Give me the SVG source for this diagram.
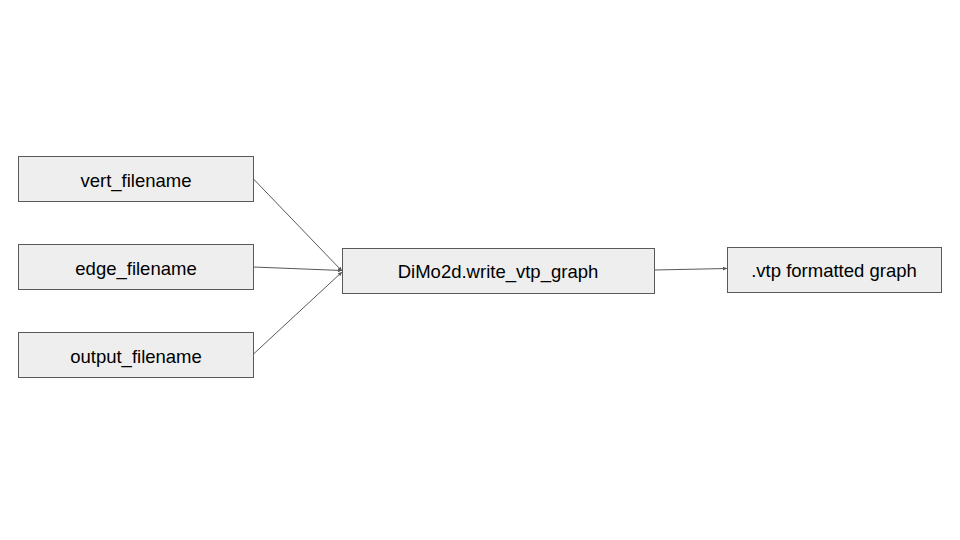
<svg xmlns="http://www.w3.org/2000/svg" width="960" height="540" viewBox="0 0 960 540">
<style>
.box{fill:#eeeeee;stroke:#595959;stroke-width:1}
.lbl{font-family:"Liberation Sans",Arial,sans-serif;font-size:18.5px;fill:#000;text-anchor:middle;dominant-baseline:central}
.conn{stroke:#595959;stroke-width:1;fill:none;marker-end:url(#ah)}
</style>
<defs>
<marker id="ah" viewBox="0 0 10 10" refX="10" refY="5" markerWidth="6" markerHeight="4" orient="auto" markerUnits="userSpaceOnUse">
<path d="M0,0 L10,5 L0,10 z" fill="#595959"/>
</marker>
</defs>
<rect width="960" height="540" fill="#ffffff"/>
<g id="connectors">
<line class="conn" x1="253.5" y1="179" x2="342" y2="271"/>
<line class="conn" x1="253.5" y1="267" x2="342" y2="270.5"/>
<line class="conn" x1="253.5" y1="354" x2="342" y2="272"/>
<line class="conn" x1="654.5" y1="270" x2="727" y2="268.5"/>
</g>
<g id="vert_filename">
<rect class="box" x="18.5" y="156.5" width="235" height="45"/>
<text class="lbl" x="136" y="180">vert_filename</text>
</g>
<g id="edge_filename">
<rect class="box" x="18.5" y="244.5" width="235" height="45"/>
<text class="lbl" x="136" y="268">edge_filename</text>
</g>
<g id="output_filename">
<rect class="box" x="18.5" y="332.5" width="235" height="45"/>
<text class="lbl" x="136" y="356">output_filename</text>
</g>
<g id="write_vtp_graph">
<rect class="box" x="342.5" y="248.5" width="312" height="45"/>
<text class="lbl" x="498" y="271">DiMo2d.write_vtp_graph</text>
</g>
<g id="vtp_graph">
<rect class="box" x="727.5" y="247.5" width="214" height="45"/>
<text class="lbl" x="834" y="270">.vtp formatted graph</text>
</g>
</svg>
